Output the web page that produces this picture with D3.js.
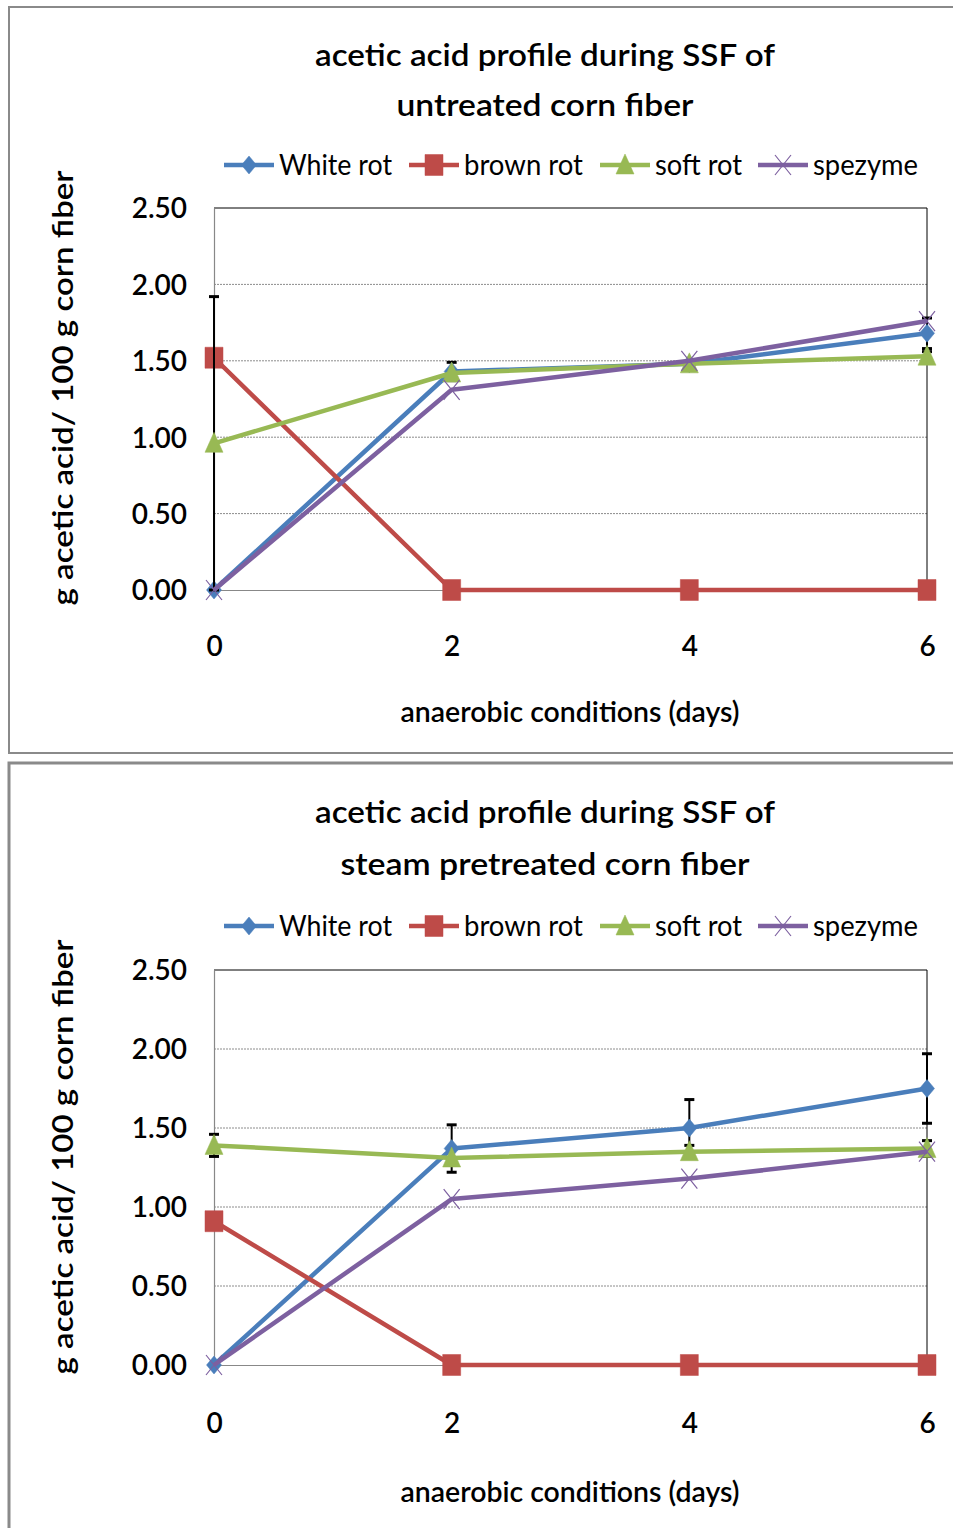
<!DOCTYPE html>
<html><head><meta charset="utf-8">
<script src="https://cdn.jsdelivr.net/npm/d3@7"></script>
<style>html,body{margin:0;padding:0;background:#fff;}svg{display:block;}</style>
</head><body>
<svg id="c" width="953" height="1528"></svg>
<script>
// ---- data ----
const days = [0, 2, 4, 6];
const yTicks = [0, 0.5, 1.0, 1.5, 2.0, 2.5];
const seriesNames = ["White rot", "brown rot", "soft rot", "spezyme"];

const untreatedWhite = [0, 1.43, 1.48, 1.68];
const untreatedBrown = [1.52, 0, 0, 0];
const untreatedSoft  = [0.96, 1.42, 1.48, 1.53];
const untreatedSpez  = [0, 1.31, 1.50, 1.76];
const untreatedWhiteErr = [0, 0.06, 0, 0.10];
const untreatedBrownErr = [0, 0, 0, 0];
const untreatedSoftErr  = [0.96, 0, 0, 0.03];
const untreatedSpezErr  = [0, 0, 0, 0];

const steamWhite = [0, 1.37, 1.50, 1.75];
const steamBrown = [0.91, 0, 0, 0];
const steamSoft  = [1.39, 1.31, 1.35, 1.37];
const steamSpez  = [0, 1.05, 1.18, 1.35];
const steamWhiteErr = [0, 0.15, 0.18, 0.22];
const steamBrownErr = [0, 0, 0, 0];
const steamSoftErr  = [0.07, 0, 0.04, 0.05];
const steamSpezErr  = [0, 0, 0, 0];

const titlesTop = ["acetic acid profile during SSF of", "untreated corn fiber"];
const titlesBottom = ["acetic acid profile during SSF of", "steam pretreated corn fiber"];
const xTitle = "anaerobic conditions (days)";
const yTitle = "g acetic acid/ 100 g corn fiber";

// ---- styles ----
const colors = ["#4a7ebb", "#be4b48", "#98b954", "#7d60a0"];
const markers = ["diamond", "square", "triangle", "x"];
const FONT = "Lato, 'Open Sans', sans-serif";

const svg = d3.select("#c");

// panel frames
svg.append("rect").attr("x", 9).attr("y", 7).attr("width", 1000).attr("height", 746)
  .attr("fill", "none").attr("stroke", "#8a8a8a").attr("stroke-width", 2);
svg.append("rect").attr("x", 9).attr("y", 763).attr("width", 1000).attr("height", 800)
  .attr("fill", "none").attr("stroke", "#8a8a8a").attr("stroke-width", 3);

function markerPath(type, cx, cy) {
  if (type === "diamond") return `M${cx},${cy-9}L${cx+7.5},${cy}L${cx},${cy+9}L${cx-7.5},${cy}Z`;
  if (type === "square") return `M${cx-9},${cy-10.5}h18v21h-18Z`;
  if (type === "triangle") return `M${cx},${cy-11}L${cx+9},${cy+9}L${cx-9},${cy+9}Z`;
  return `M${cx-8},${cy-10}L${cx+8},${cy+10}M${cx-8},${cy+10}L${cx+8},${cy-10}`;
}
function drawMarker(g, type, color, cx, cy) {
  const p = g.append("path").attr("d", markerPath(type, cx, cy));
  if (type === "x") p.attr("fill", "none").attr("stroke", color).attr("stroke-width", 1.2);
  else p.attr("fill", color).attr("stroke", color).attr("stroke-width", 0.5);
}

function drawPanel(cfg) {
  const g = svg.append("g");
  const x = d3.scaleLinear().domain([0, 6]).range([214, 927]);
  const y = d3.scaleLinear().domain([0, 2.5]).range([cfg.plotBottom, cfg.plotTop]);

  // titles
  cfg.titles.forEach((t, i) => {
    g.append("text").attr("x", 545).attr("y", cfg.titleY[i]).attr("text-anchor", "middle")
      .attr("font-family", FONT).attr("font-size", 31).attr("font-weight", 600).attr("fill", "#000")
      .attr("textLength", cfg.titleW[i]).attr("lengthAdjust", "spacingAndGlyphs").text(t);
  });

  // legend
  const legX = [224, 409, 600, 758];
  const legTxtW = [113, 119, 87, 105];
  seriesNames.forEach((n, i) => {
    const lx = legX[i];
    g.append("line").attr("x1", lx).attr("x2", lx + 50).attr("y1", cfg.legendY).attr("y2", cfg.legendY)
      .attr("stroke", colors[i]).attr("stroke-width", 4.5);
    drawMarker(g, markers[i], colors[i], lx + 25, cfg.legendY);
    g.append("text").attr("x", lx + 55).attr("y", cfg.legendY + 10)
      .attr("font-family", FONT).attr("font-size", 29).attr("fill", "#000")
      .attr("textLength", legTxtW[i]).attr("lengthAdjust", "spacingAndGlyphs").text(n);
  });

  // gridlines
  g.selectAll(".grid").data(yTicks.filter(v => v > 0 && v < 2.5)).enter().append("line")
    .attr("x1", 214).attr("x2", 927).attr("y1", d => y(d)).attr("y2", d => y(d))
    .attr("stroke", "#8c8c8c").attr("stroke-width", 1).attr("stroke-dasharray", "2,1");

  // plot borders
  g.append("line").attr("x1", 214).attr("x2", 927).attr("y1", cfg.plotTop).attr("y2", cfg.plotTop)
    .attr("stroke", "#000").attr("stroke-width", 1);
  g.append("line").attr("x1", 927).attr("x2", 927).attr("y1", cfg.plotTop).attr("y2", cfg.plotBottom)
    .attr("stroke", "#000").attr("stroke-width", 1);

  // axes
  const yAxis = d3.axisLeft(y).tickValues(yTicks).tickSize(0).tickPadding(27).tickFormat(d3.format(".2f"));
  const ya = g.append("g").attr("transform", "translate(214,0)").call(yAxis);
  ya.select(".domain").attr("stroke", "#888").attr("stroke-width", 1.2);
  ya.selectAll("text").attr("font-family", FONT).attr("font-size", 28).attr("font-weight", 600)
    .attr("fill", "#000").attr("dy", "0.35em");

  const xAxis = d3.axisBottom(x).tickValues(days).tickSize(0).tickPadding(0).tickFormat(d3.format("d"));
  const xa = g.append("g").attr("transform", `translate(0,${cfg.plotBottom})`).call(xAxis);
  xa.select(".domain").attr("stroke", "#888").attr("stroke-width", 1.2);
  xa.selectAll("text").attr("font-family", FONT).attr("font-size", 28).attr("font-weight", 600)
    .attr("fill", "#000").attr("y", cfg.xTickY - cfg.plotBottom).attr("dy", "0.35em");

  // axis titles
  g.append("text").attr("x", 570).attr("y", cfg.xTitleY).attr("text-anchor", "middle")
    .attr("font-family", FONT).attr("font-size", 29).attr("font-weight", 600).attr("fill", "#000")
    .attr("textLength", 339).attr("lengthAdjust", "spacingAndGlyphs").text(xTitle);
  g.append("text").attr("transform", `translate(73,${cfg.yTitleCY}) rotate(-90)`).attr("text-anchor", "middle")
    .attr("font-family", FONT).attr("font-size", 29).attr("font-weight", 600).attr("fill", "#000")
    .attr("textLength", 435).attr("lengthAdjust", "spacingAndGlyphs").text(yTitle);

  // series
  cfg.series.forEach((vals, i) => {
    const errs = cfg.errs[i];
    const sg = g.append("g");
    vals.forEach((v, j) => {
      const e = errs[j];
      if (!e) return;
      const cx = x(days[j]);
      sg.append("line").attr("x1", cx).attr("x2", cx).attr("y1", y(v + e)).attr("y2", y(Math.max(0, v - e)))
        .attr("stroke", "#000").attr("stroke-width", 2);
      [v + e, v - e].forEach(b => {
        if (b < 0) return;
        sg.append("line").attr("x1", cx - 5).attr("x2", cx + 5).attr("y1", y(b)).attr("y2", y(b))
          .attr("stroke", "#000").attr("stroke-width", 3);
      });
    });
    const line = d3.line().x((d, j) => x(days[j])).y(d => y(d));
    sg.append("path").datum(vals).attr("d", line).attr("fill", "none")
      .attr("stroke", colors[i]).attr("stroke-width", 4.5).attr("stroke-linejoin", "round");
    vals.forEach((v, j) => drawMarker(sg, markers[i], colors[i], x(days[j]), y(v)));
  });
}

drawPanel({
  titles: titlesTop, titleY: [66, 116], titleW: [460, 297], legendY: 165,
  plotTop: 208, plotBottom: 590, xTickY: 646, xTitleY: 722, yTitleCY: 388,
  series: [untreatedWhite, untreatedBrown, untreatedSoft, untreatedSpez],
  errs: [untreatedWhiteErr, untreatedBrownErr, untreatedSoftErr, untreatedSpezErr]
});
drawPanel({
  titles: titlesBottom, titleY: [823, 875], titleW: [460, 409], legendY: 926,
  plotTop: 970, plotBottom: 1365, xTickY: 1423, xTitleY: 1502, yTitleCY: 1157,
  series: [steamWhite, steamBrown, steamSoft, steamSpez],
  errs: [steamWhiteErr, steamBrownErr, steamSoftErr, steamSpezErr]
});
</script>
</body></html>
